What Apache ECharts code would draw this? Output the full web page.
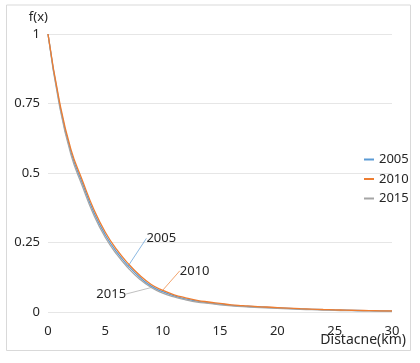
<!DOCTYPE html>
<html>
<head>
<meta charset="utf-8">
<script src="https://cdn.jsdelivr.net/npm/echarts@6/dist/echarts.min.js"></script>
<style>html,body{margin:0;padding:0;background:#fff;}#c{width:420px;height:363px;}</style>
</head>
<body>
<div id="c"></div>
<script>
const distance = [0,1,2,3,4,5,6,7,8,9,10,11,12,13,14,15,16,17,18,19,20,21,22,23,24,25,26,27,28,29,30];
const f2005 = [1,0.750,0.575,0.463,0.358,0.277,0.215,0.166,0.125,0.093,0.073,0.058,0.047,0.039,0.033,0.028,0.024,0.021,0.019,0.017,0.015,0.013,0.011,0.0098,0.0085,0.0073,0.0063,0.0054,0.0046,0.004,0.0034];
const f2010 = [1,0.758,0.585,0.473,0.369,0.287,0.224,0.174,0.132,0.099,0.078,0.062,0.051,0.042,0.036,0.031,0.026,0.023,0.020,0.018,0.016,0.014,0.012,0.0105,0.009,0.0078,0.0067,0.0058,0.005,0.0043,0.0037];
const f2015 = [1,0.742,0.566,0.452,0.348,0.268,0.207,0.158,0.118,0.088,0.068,0.054,0.044,0.036,0.031,0.026,0.022,0.019,0.017,0.015,0.013,0.011,0.0095,0.0082,0.007,0.006,0.005,0.0043,0.0037,0.0031,0.0026];
const seriesNames = ['2005','2010','2015'];
const colors = ['#5B9BD5','#ED7D31','#A5A5A5'];
const labelAt = [7, 10, 9];           // distance where each callout is attached
const labelShift = [[33,-16],[32,-8],[-40,18]];
const yTicks = [0,0.25,0.5,0.75,1];
const xAxisTitle = 'Distacne(km)';
const yAxisTitle = 'f(x)';

const FONT = '"Noto Sans", "Open Sans", sans-serif';
const allData = [f2005, f2010, f2015];

const series = allData.map((vals, si) => ({
  name: seriesNames[si],
  type: 'line',
  smooth: true,
  showSymbol: true,
  symbol: 'circle',
  symbolSize: 0.01,
  lineStyle: { width: 1.3, color: colors[si] },
  itemStyle: { color: colors[si] },
  label: { show: false },
  data: distance.map((d, i) => {
    const item = { value: [d, vals[i]] };
    if (d === labelAt[si]) {
      item.label = { show: true, formatter: seriesNames[si], position: 'top',
        color: '#262626', fontSize: 13, fontFamily: FONT, opacity: 1 };
      item.labelLine = { show: true, lineStyle: { color: colors[si], width: 1, opacity: 0.7 } };
    }
    return item;
  }),
  labelLayout: { dx: labelShift[si][0], dy: labelShift[si][1] },
  labelLine: { show: true, smooth: false, lineStyle: { color: colors[si], width: 1, opacity: 0.7 } },
  z: si === 1 ? 3 : 2
}));

const chart = echarts.init(document.getElementById('c'), null, { renderer: 'canvas' });
chart.setOption({
  animation: false,
  backgroundColor: '#fff',
  textStyle: { fontFamily: FONT },
  title: {
    text: xAxisTitle, right: 14, top: 333, padding: 0,
    textStyle: { fontSize: 14, fontWeight: 'normal', color: '#262626', fontFamily: FONT }
  },
  graphic: [{
    type: 'rect', shape: { x: 6.5, y: 5, width: 404, height: 345.5 },
    style: { fill: 'none', stroke: '#D9D9D9', lineWidth: 1 }, silent: true
  }],
  grid: { left: 48, right: 28, top: 34, bottom: 51, containLabel: false, outerBoundsMode: 'none' },
  legend: {
    orient: 'vertical', left: 359, top: 148, itemGap: 6.5,
    itemWidth: 10, itemHeight: 2, icon: 'rect',
    textStyle: { fontSize: 13, color: '#262626', fontFamily: FONT },
    data: seriesNames
  },
  xAxis: {
    type: 'value', min: 0, max: 30, interval: 5,
    axisLine: { show: false }, axisTick: { show: false }, splitLine: { show: false },
    axisLabel: { fontSize: 13, color: '#262626', margin: 13, fontFamily: FONT }
  },
  yAxis: {
    type: 'value', min: 0, max: 1, interval: 0.25,
    name: yAxisTitle, nameLocation: 'end', nameGap: 10,
    nameTextStyle: { fontSize: 13, color: '#262626', align: 'right', padding: [0,0,0,0], fontFamily: FONT },
    axisLine: { show: false }, axisTick: { show: false },
    splitLine: { lineStyle: { color: '#E6E6E6', width: 1 } },
    axisLabel: { fontSize: 13, color: '#262626', margin: 8, fontFamily: FONT,
      formatter: v => yTicks.includes(v) ? String(v) : '' }
  },
  series: series
});
</script>
</body>
</html>
